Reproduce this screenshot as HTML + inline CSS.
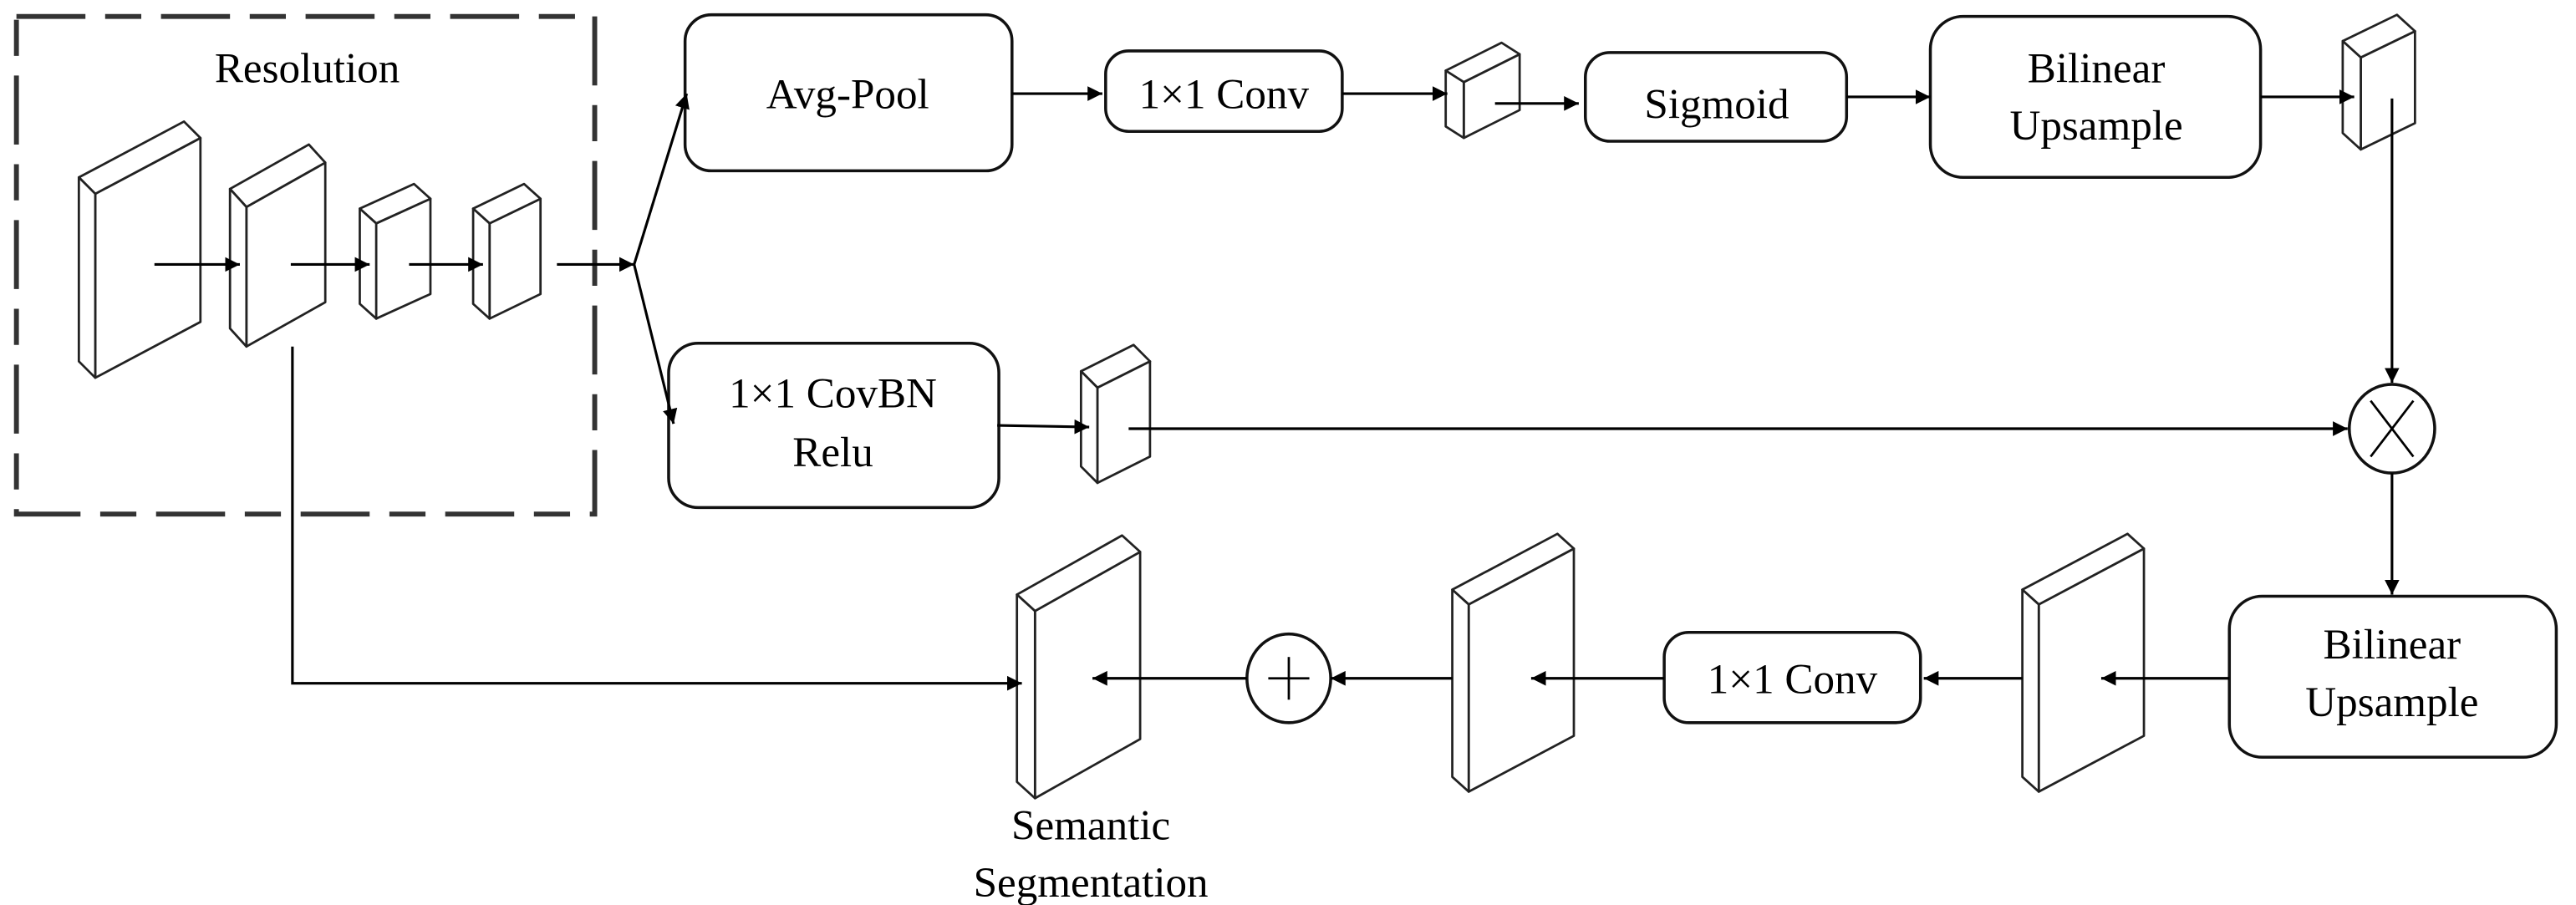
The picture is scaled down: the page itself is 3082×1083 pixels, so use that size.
<!DOCTYPE html>
<html><head><meta charset="utf-8"><style>
html,body{margin:0;padding:0;background:#fff;}
svg{display:block;}
text{font-family:"Liberation Serif",serif;font-size:26px;fill:#000;text-anchor:middle;}
</style></head><body>
<svg width="3082" height="1083" viewBox="0 0 1568 551" preserveAspectRatio="none" xmlns="http://www.w3.org/2000/svg">
<defs>
<marker id="a" viewBox="0 0 10 10" refX="10" refY="5" markerWidth="9" markerHeight="9" markerUnits="userSpaceOnUse" orient="auto">
<path d="M0,0 L10,5 L0,10 z" fill="#000"/></marker>
</defs>
<g fill="none" stroke="#000" stroke-width="1.5">
<!-- dashed box -->
<rect x="10" y="10" width="352" height="303" stroke="#333" stroke-width="3" stroke-dasharray="42 12 22 12"/>
</g>
<text x="187" y="50">Resolution</text>

<g fill="#fff" stroke="#222" stroke-width="1.4" stroke-linejoin="round">
<!-- cubes: front, top, left -->
<g id="b1"><polygon points="58,118 122,84 122,196 58,230"/><polygon points="58,118 122,84 112,74 48,108"/><polygon points="58,118 48,108 48,220 58,230"/></g>
<g><polygon points="150,126 198,99 198,184 150,211"/><polygon points="150,126 198,99 188,88 140,115"/><polygon points="150,126 140,115 140,200 150,211"/></g>
<g><polygon points="229,136 262,121 262,179 229,194"/><polygon points="229,136 262,121 252,112 219,127"/><polygon points="229,136 219,127 219,185 229,194"/></g>
<g><polygon points="298,136 329,121 329,179 298,194"/><polygon points="298,136 329,121 319,112 288,127"/><polygon points="298,136 288,127 288,185 298,194"/></g>
<g><polygon points="891,50 925,33 925,67 891,84"/><polygon points="891,50 925,33 914,26 880,43"/><polygon points="891,50 880,43 880,77 891,84"/></g>
<g><polygon points="1437,35 1470,19 1470,75 1437,91"/><polygon points="1437,35 1470,19 1459,9 1426,25"/><polygon points="1437,35 1426,25 1426,81 1437,91"/></g>
<g><polygon points="668,236 700,220 700,278 668,294"/><polygon points="668,236 700,220 690,210 658,226"/><polygon points="668,236 658,226 658,284 668,294"/></g>
<g><polygon points="630,372 694,336 694,450 630,486"/><polygon points="630,372 694,336 683,326 619,362"/><polygon points="630,372 619,362 619,476 630,486"/></g>
<g><polygon points="894,368 958,334 958,448 894,482"/><polygon points="894,368 958,334 948,325 884,359"/><polygon points="894,368 884,359 884,473 894,482"/></g>
<g><polygon points="1241,368 1305,334 1305,448 1241,482"/><polygon points="1241,368 1305,334 1295,325 1231,359"/><polygon points="1241,368 1231,359 1231,473 1241,482"/></g>
</g>

<g fill="#fff" stroke="#111" stroke-width="1.8">
<rect x="417" y="9" width="199" height="95" rx="16"/>
<rect x="673" y="31" width="144" height="49" rx="14"/>
<rect x="965" y="32" width="159" height="54" rx="15"/>
<rect x="1175" y="10" width="201" height="98" rx="20"/>
<rect x="407" y="209" width="201" height="100" rx="18"/>
<rect x="1013" y="385" width="156" height="55" rx="15"/>
<rect x="1357" y="363" width="199" height="98" rx="20"/>
<ellipse cx="1456" cy="261" rx="26" ry="27"/>
<ellipse cx="784.5" cy="413" rx="25.5" ry="27"/>
</g>
<g stroke="#000" stroke-width="1.4">
<line x1="1443" y1="244" x2="1469" y2="278"/><line x1="1469" y1="244" x2="1443" y2="278"/>
<line x1="784.5" y1="400" x2="784.5" y2="426"/><line x1="772" y1="413" x2="797" y2="413"/>
</g>

<g fill="none" stroke="#000" stroke-width="1.6" marker-end="url(#a)">
<line x1="94" y1="161" x2="146" y2="161"/>
<line x1="177" y1="161" x2="225" y2="161"/>
<line x1="249" y1="161" x2="294" y2="161"/>
<line x1="339" y1="161" x2="386" y2="161"/>
<line x1="386" y1="161" x2="418" y2="57"/>
<line x1="386" y1="161" x2="410" y2="258"/>
<line x1="616" y1="57" x2="671" y2="57"/>
<line x1="817" y1="57" x2="881" y2="57"/>
<line x1="910" y1="63" x2="961" y2="63"/>
<line x1="1124" y1="59" x2="1175" y2="59"/>
<line x1="1376" y1="59" x2="1433" y2="59"/>
<line x1="1456" y1="60" x2="1456" y2="233"/>
<line x1="607" y1="259" x2="663" y2="260"/>
<line x1="687" y1="261" x2="1429" y2="261"/>
<line x1="1456" y1="288" x2="1456" y2="362"/>
<line x1="1357" y1="413" x2="1279" y2="413"/>
<line x1="1231" y1="413" x2="1171" y2="413"/>
<line x1="1013" y1="413" x2="932" y2="413"/>
<line x1="884" y1="413" x2="810" y2="413"/>
<line x1="759" y1="413" x2="665" y2="413"/>
<polyline points="178,211 178,416 622,416"/>
</g>

<text x="516" y="66">Avg-Pool</text>
<text x="745" y="66">1×1 Conv</text>
<text x="1045" y="72">Sigmoid</text>
<text x="1276" y="50">Bilinear</text>
<text x="1276" y="85">Upsample</text>
<text x="507" y="248">1×1 CovBN</text>
<text x="507" y="284">Relu</text>
<text x="1091" y="422">1×1 Conv</text>
<text x="1456" y="401">Bilinear</text>
<text x="1456" y="436">Upsample</text>
<text x="664" y="511">Semantic</text>
<text x="664" y="546">Segmentation</text>
</svg>
</body></html>
